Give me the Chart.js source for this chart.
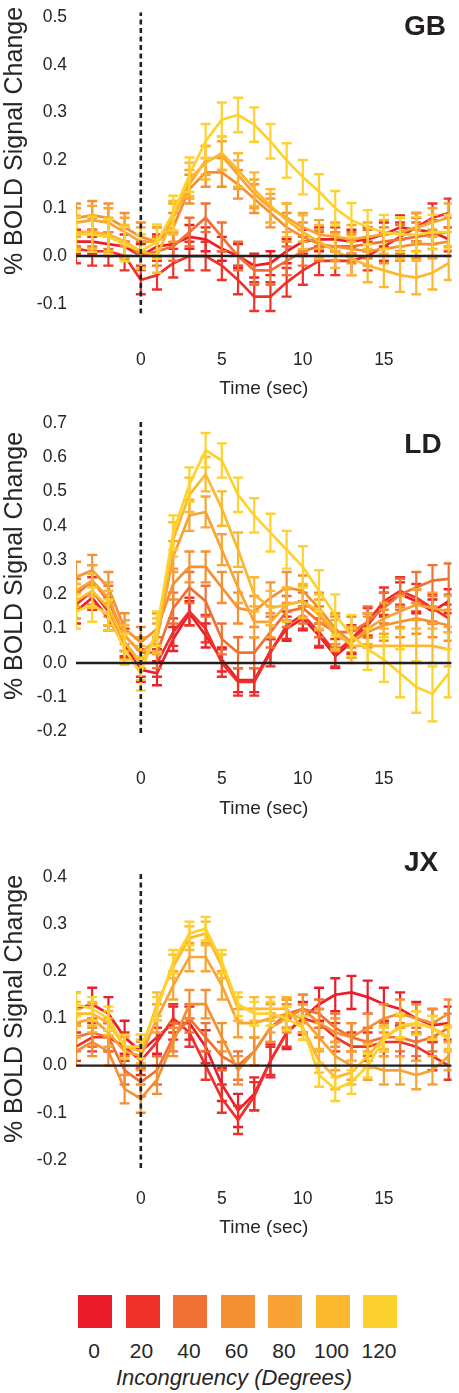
<!DOCTYPE html>
<html>
<head>
<meta charset="utf-8">
<script src="https://cdn.jsdelivr.net/npm/chart.js@4.4.1/dist/chart.umd.min.js"></script>
<style>
html,body{margin:0;padding:0;background:#fff;}
body{width:459px;height:1393px;position:relative;overflow:hidden;font-family:"Liberation Sans",Arial,Helvetica,sans-serif;color:#262626;}
canvas{position:absolute;left:0;}
.ytitle{position:absolute;left:13px;font-size:25px;white-space:nowrap;transform:translate(-50%,-50%) rotate(-90deg);}
.plabel{position:absolute;font-weight:bold;font-size:28px;transform:translate(-50%,-50%);color:#231f20;}
.sw{position:absolute;top:1295px;width:34px;height:33px;}
.lg{position:absolute;top:1351px;font-size:21px;transform:translate(-50%,-50%);white-space:nowrap;}
.lgtitle{position:absolute;top:1378px;left:234px;font-size:22px;font-style:italic;transform:translate(-50%,-50%);white-space:nowrap;}
</style>
</head>
<body>
<canvas id="cGB" width="459" height="405" style="top:0px;width:459px;height:405px"></canvas>
<canvas id="cLD" width="459" height="415" style="top:410px;width:459px;height:415px"></canvas>
<canvas id="cJX" width="459" height="415" style="top:830px;width:459px;height:415px"></canvas>
<div class="ytitle" style="top:141px">% BOLD Signal Change</div>
<div class="ytitle" style="top:566px">% BOLD Signal Change</div>
<div class="ytitle" style="top:1009px">% BOLD Signal Change</div>
<div class="plabel" style="left:425px;top:26px">GB</div>
<div class="plabel" style="left:423px;top:444px">LD</div>
<div class="plabel" style="left:421px;top:862px">JX</div>
<div id="legend"></div>
<div class="lgtitle">Incongruency (Degrees)</div>
<script>
// ---------- data ----------
const times = [-4,-3,-2,-1,0,1,2,3,4,5,6,7,8,9,10,11,12,13,14,15,16,17,18,19];
const seriesLabels = ['0','20','40','60','80','100','120'];
const seriesColors = ['#ec1c2b','#ee3129','#f07133','#f58f31','#f8a333','#fcb82f','#fed22e'];
const xTicks = [0,5,10,15];

// GB
const GB_0   = [0.03,0.03,0.025,0.02,0.00,0.02,0.025,0.04,0.035,0.015,0.0,-0.02,-0.015,0.01,0.03,0.035,0.035,0.03,0.035,0.045,0.06,0.055,0.05,0.035];
const GB_20  = [0.015,0.01,0.01,0.0,-0.05,-0.04,-0.015,0.0,0.0,-0.02,-0.05,-0.085,-0.085,-0.055,-0.03,-0.01,-0.01,-0.01,0.0,0.02,0.04,0.06,0.08,0.09];
const GB_40  = [0.05,0.05,0.045,0.03,0.0,0.01,0.02,0.05,0.08,0.04,0.0,-0.03,-0.03,-0.01,0.01,0.02,0.02,0.02,0.025,0.03,0.035,0.04,0.045,0.05];
const GB_60  = [0.08,0.085,0.08,0.06,0.04,0.03,0.06,0.14,0.175,0.175,0.15,0.12,0.09,0.06,0.04,0.025,0.02,0.015,0.01,0.015,0.02,0.025,0.025,0.03];
const GB_80  = [0.07,0.075,0.07,0.05,0.03,0.03,0.08,0.15,0.2,0.21,0.17,0.13,0.1,0.08,0.06,0.045,0.04,0.035,0.04,0.045,0.05,0.06,0.07,0.08];
const GB_100 = [0.05,0.05,0.045,0.03,0.01,0.0,0.08,0.16,0.195,0.215,0.18,0.14,0.105,0.075,0.05,0.03,0.01,-0.005,-0.02,-0.03,-0.04,-0.045,-0.035,-0.015];
const GB_120 = [0.045,0.045,0.04,0.025,0.01,0.03,0.09,0.17,0.24,0.285,0.295,0.275,0.24,0.2,0.165,0.135,0.1,0.075,0.06,0.05,0.045,0.045,0.05,0.05];
const GB_err = [0.025,0.03,0.03,0.03,0.03,0.035,0.036];
const GB_yTicks = [-0.1,0,0.1,0.2,0.3,0.4,0.5];

// LD
const LD_0   = [0.15,0.19,0.13,0.05,-0.02,-0.03,0.07,0.145,0.08,0.01,-0.05,-0.05,0.035,0.10,0.13,0.08,0.02,0.06,0.11,0.17,0.20,0.18,0.15,0.18];
const LD_20  = [0.17,0.21,0.15,0.06,0.0,0.0,0.09,0.15,0.10,0.0,-0.055,-0.055,0.03,0.11,0.14,0.09,0.03,0.07,0.12,0.18,0.21,0.19,0.16,0.13];
const LD_40  = [0.20,0.24,0.18,0.08,0.03,0.03,0.16,0.22,0.18,0.07,0.03,0.03,0.09,0.15,0.16,0.12,0.09,0.09,0.12,0.16,0.20,0.22,0.24,0.245];
const LD_60  = [0.25,0.27,0.22,0.10,0.06,0.10,0.23,0.28,0.28,0.22,0.16,0.15,0.19,0.22,0.21,0.16,0.10,0.06,0.09,0.11,0.12,0.13,0.12,0.11];
const LD_80  = [0.21,0.24,0.19,0.08,0.03,0.07,0.31,0.43,0.44,0.33,0.22,0.12,0.12,0.17,0.18,0.14,0.08,0.06,0.10,0.13,0.15,0.17,0.16,0.15];
const LD_100 = [0.18,0.21,0.16,0.06,0.0,0.08,0.36,0.49,0.55,0.45,0.33,0.20,0.16,0.17,0.18,0.15,0.09,0.05,0.05,0.05,0.05,0.05,0.05,0.04];
const LD_120 = [0.15,0.17,0.14,0.04,-0.03,0.10,0.38,0.52,0.62,0.59,0.49,0.43,0.38,0.33,0.28,0.21,0.14,0.08,0.04,0.01,-0.03,-0.07,-0.09,-0.03];
const LD_err = [0.035,0.04,0.045,0.045,0.045,0.05,0.05];
const LD_err_120 = [0.05,0.05,0.045,0.045,0.05,0.05,0.05,0.05,0.05,0.05,0.05,0.05,0.055,0.055,0.06,0.06,0.06,0.06,0.06,0.065,0.07,0.075,0.08,0.07];
const LD_yTicks = [-0.2,-0.1,0,0.1,0.2,0.3,0.4,0.5,0.6,0.7];

// JX
const JX_0   = [0.12,0.13,0.11,0.06,0.03,0.06,0.09,0.09,0.04,-0.04,-0.095,-0.06,0.01,0.07,0.10,0.13,0.15,0.155,0.145,0.13,0.12,0.10,0.085,0.09];
const JX_20  = [0.04,0.06,0.06,0.04,0.01,0.05,0.10,0.07,0.0,-0.07,-0.115,-0.065,0.01,0.07,0.10,0.09,0.06,0.04,0.04,0.05,0.05,0.04,0.02,0.0];
const JX_40  = [0.06,0.07,0.06,-0.01,-0.035,-0.01,0.06,0.10,0.06,0.02,0.0,0.03,0.08,0.11,0.12,0.11,0.08,0.06,0.05,0.06,0.06,0.05,0.06,0.08];
const JX_60  = [0.03,0.05,0.03,-0.05,-0.07,-0.03,0.05,0.13,0.13,0.06,-0.01,0.03,0.08,0.10,0.12,0.09,0.07,0.06,0.08,0.10,0.11,0.10,0.09,0.11];
const JX_80  = [0.09,0.10,0.07,0.03,0.02,0.10,0.17,0.23,0.23,0.17,0.09,0.09,0.10,0.11,0.10,0.06,0.02,0.0,0.0,-0.01,-0.01,-0.02,-0.01,0.02];
const JX_100 = [0.11,0.11,0.09,0.04,0.03,0.13,0.21,0.27,0.28,0.21,0.12,0.12,0.12,0.12,0.08,0.01,-0.025,-0.015,0.02,0.06,0.08,0.09,0.08,0.06];
const JX_120 = [0.13,0.12,0.10,0.04,0.04,0.12,0.22,0.28,0.29,0.22,0.13,0.11,0.11,0.10,0.08,-0.02,-0.05,-0.035,0.0,0.055,0.085,0.09,0.08,0.055];
const JX_err = [0.035,0.03,0.03,0.03,0.03,0.025,0.025];
const JX_yTicks = [-0.2,-0.1,0,0.1,0.2,0.3,0.4];

// ---------- layout (pixels) ----------
const X_MIN = -4, X_MAX = 19.18;
const panels = [
  {id:'cGB', series:[GB_0,GB_20,GB_40,GB_60,GB_80,GB_100,GB_120], err:[GB_err[0],GB_err[1],GB_err[2],GB_err[3],GB_err[4],GB_err[5],GB_err[6]], yTicks:GB_yTicks,
   top:0, height:405, chartTop:12.2, chartBottom:313.4, yMin:-0.12, yMax:0.51, tickCenter:360, titleCenter:389},
  {id:'cLD', series:[LD_0,LD_20,LD_40,LD_60,LD_80,LD_100,LD_120], err:[LD_err[0],LD_err[1],LD_err[2],LD_err[3],LD_err[4],LD_err[5],LD_err_120], yTicks:LD_yTicks,
   top:410, height:415, chartTop:420, chartBottom:733, yMin:-0.204, yMax:0.708, tickCenter:779, titleCenter:809},
  {id:'cJX', series:[JX_0,JX_20,JX_40,JX_60,JX_80,JX_100,JX_120], err:[JX_err[0],JX_err[1],JX_err[2],JX_err[3],JX_err[4],JX_err[5],JX_err[6]], yTicks:JX_yTicks,
   top:830, height:415, chartTop:873, chartBottom:1168, yMin:-0.217, yMax:0.408, tickCenter:1199, titleCenter:1228}
];

const FONT = '"Liberation Sans", Arial, Helvetica, sans-serif';
const TICK_SIZE = 17.5, TITLE_SIZE = 19;
Chart.defaults.font.family = FONT;
Chart.defaults.color = '#262626';

function buildChart(p) {
  const datasets = [];
  p.series.forEach((vals, i) => {
    const col = seriesColors[i];
    const e = p.err[i];
    datasets.push({
      type:'line', label: seriesLabels[i],
      data: times.map((t, k) => ({x:t, y:vals[k]})),
      borderColor: col, borderWidth: 2.7, pointRadius: 0, tension: 0,
      order: 6 - i
    });
    const errData = [];
    times.forEach((t, k) => {
      const ek = Array.isArray(e) ? e[k] : e;
      errData.push({x:t, y:vals[k]-ek}, {x:t, y:vals[k]+ek}, {x:t, y:null});
    });
    datasets.push({
      type:'line', label: seriesLabels[i] + ' err',
      data: errData,
      borderColor: col, borderWidth: 2.2, tension: 0, spanGaps: false,
      pointStyle: 'line', pointRadius: 5, pointHoverRadius: 5,
      pointBorderColor: col, pointBorderWidth: 2.4, pointBackgroundColor: col,
      order: 6 - i
    });
  });
  // zero line and stimulus-onset line
  datasets.push({type:'line', data:[{x:X_MIN,y:0},{x:X_MAX,y:0}], borderColor:'#231f20', borderWidth:2.4, pointRadius:0, order:-1});
  datasets.push({type:'line', data:[{x:0,y:p.yMin},{x:0,y:p.yMax}], borderColor:'#231f20', borderWidth:2.6, borderDash:[5,3.5], pointRadius:0, order:-1});

  const xAxisHeight = (p.top + p.height) - p.chartBottom;
  const tickPad = p.tickCenter - p.chartBottom - TICK_SIZE*1.2/2;
  const titlePadBottom = (p.top + p.height) - p.titleCenter - TITLE_SIZE*1.2/2;

  new Chart(document.getElementById(p.id), {
    type:'line',
    data:{datasets},
    options:{
      responsive:false, animation:false, events:[],
      layout:{padding:{top:p.chartTop - p.top, left:0, right:5, bottom:0}},
      plugins:{legend:{display:false}, tooltip:{enabled:false}},
      scales:{
        x:{
          type:'linear', min:X_MIN, max:X_MAX,
          grid:{display:false, drawTicks:false}, border:{display:false},
          ticks:{font:{size:TICK_SIZE}, color:'#262626', padding:tickPad, maxRotation:0, callback:v=>String(v)},
          afterBuildTicks: s => { s.ticks = xTicks.map(v => ({value:v})); },
          afterFit: s => { s.height = xAxisHeight; s.paddingLeft = 0; s.paddingRight = 0; },
          title:{display:true, text:'Time (sec)', font:{size:TITLE_SIZE}, color:'#262626', padding:{top:0, bottom:titlePadBottom}}
        },
        y:{
          type:'linear', min:p.yMin, max:p.yMax,
          grid:{display:false, drawTicks:false}, border:{display:false},
          ticks:{font:{size:TICK_SIZE}, color:'#262626', padding:9, callback:v=>v.toFixed(1)},
          afterBuildTicks: s => { s.ticks = p.yTicks.map(v => ({value:v})); },
          afterFit: s => { s.width = 76; s.paddingTop = 0; s.paddingBottom = 0; }
        }
      }
    }
  });
}
panels.forEach(buildChart);

// legend (HTML swatches built from series arrays)
const lg = document.getElementById('legend');
seriesLabels.forEach((lab, i) => {
  const left = 78 + i * 47.5;
  const sw = document.createElement('div');
  sw.className = 'sw';
  sw.style.left = left + 'px';
  sw.style.background = seriesColors[i];
  lg.appendChild(sw);
  const t = document.createElement('div');
  t.className = 'lg';
  t.style.left = (left + 16) + 'px';
  t.textContent = lab;
  lg.appendChild(t);
});
</script>
</body>
</html>
